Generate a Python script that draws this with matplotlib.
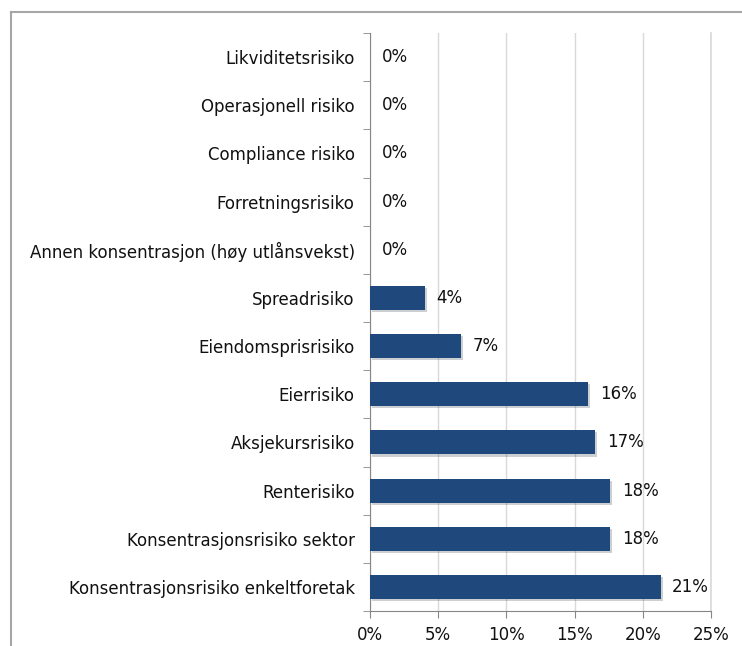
import matplotlib.pyplot as plt
import matplotlib.patheffects as pe
from matplotlib.lines import Line2D

plt.rcParams["font.family"] = "DejaVu Sans"

# risk categories, top to bottom as shown
categories = [
    "Likviditetsrisiko",
    "Operasjonell risiko",
    "Compliance risiko",
    "Forretningsrisiko",
    "Annen konsentrasjon (høy utlånsvekst)",
    "Spreadrisiko",
    "Eiendomsprisrisiko",
    "Eierrisiko",
    "Aksjekursrisiko",
    "Renterisiko",
    "Konsentrasjonsrisiko sektor",
    "Konsentrasjonsrisiko enkeltforetak",
]
shares = [0, 0, 0, 0, 0, 4.0, 6.7, 16.0, 16.5, 17.6, 17.6, 21.3]
labels = ["0%", "0%", "0%", "0%", "0%", "4%", "7%", "16%", "17%", "18%", "18%", "21%"]
xticks = [0, 5, 10, 15, 20, 25]

bar_color = "#1F497D"

fig = plt.figure(figsize=(7.42, 6.46), dpi=100)
ax = fig.add_axes([370 / 742, 1 - 611 / 646, 341 / 742, 578 / 646])

ypos = list(range(len(categories)))
bars = ax.barh(ypos, shares, height=0.5, color=bar_color, zorder=3)
for b in bars:
    b.set_path_effects([pe.SimplePatchShadow(offset=(1.5, -1.5), alpha=0.2), pe.Normal()])

for y, v, lab in zip(ypos, shares, labels):
    ax.text(v + 0.85, y, lab, va="center", ha="left",
            fontsize=12, color="#111111")

ax.set_ylim(len(categories) - 0.5, -0.5)
ax.set_xlim(0, 25)
ax.set_yticks(ypos)
ax.set_yticklabels(categories, fontsize=12, color="#111111")
ax.set_yticks([i + 0.5 for i in range(-1, len(categories))], minor=True)
ax.tick_params(axis="y", which="major", length=0, pad=11)
ax.tick_params(axis="y", which="minor", length=5, color="#868686")
ax.set_xticks(xticks)
ax.set_xticklabels([f"{t}%" for t in xticks], fontsize=12, color="#111111")
ax.tick_params(axis="x", length=5, color="#868686", pad=6)

ax.grid(axis="x", color="#D9D9D9", linewidth=1, zorder=0)
ax.spines["top"].set_visible(False)
ax.spines["right"].set_visible(False)
ax.spines["left"].set_color("#868686")
ax.spines["bottom"].set_color("#868686")
ax.axvline(25, color="#D9D9D9", lw=1.2, zorder=0, clip_on=False)

# outer chart frame (cut off at right and bottom)
fig.add_artist(Line2D([11 / 742, 11 / 742], [0, 1 - 12 / 646], color="#A6A6A6", lw=1.5))
fig.add_artist(Line2D([11 / 742, 1], [1 - 12 / 646, 1 - 12 / 646], color="#A6A6A6", lw=1.5))

fig.savefig("out.png", dpi=100)
